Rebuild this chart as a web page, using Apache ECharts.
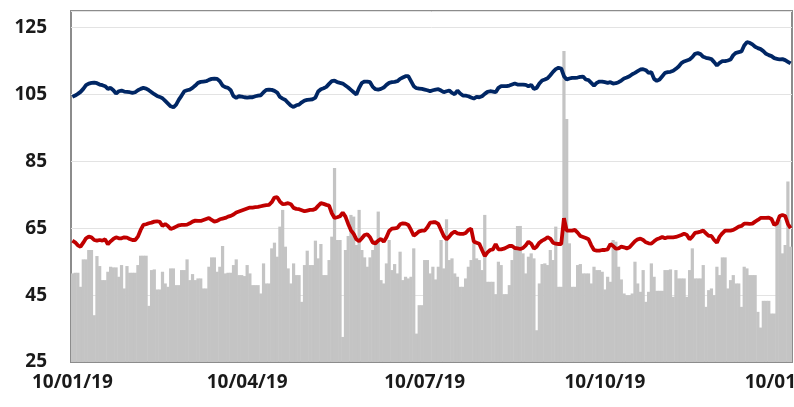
<!DOCTYPE html>
<html>
<head>
<meta charset="utf-8">
<script src="https://cdn.jsdelivr.net/npm/echarts@6/dist/echarts.min.js"></script>
<style>
  html, body { margin: 0; padding: 0; background: #fff; }
  #chart { width: 794px; height: 407px; }
</style>
</head>
<body>
<div id="chart"></div>
<script>
// --- data (one value per trading day, starting 10/01/19) -----------------
var startDate = '2019-01-10';

var greyBars = [
  51.5, 51.7, 51.7, 47.5, 55.7, 55.7, 58.5, 58.5, 39, 56.7,
  53.7, 49.5, 49.5, 52, 53.5, 53.3, 53.3, 50.5, 54, 47,
  53.7, 51.7, 51.7, 51.7, 54, 56.8, 56.8, 56.8, 41.8, 52.5,
  52.7, 46.7, 46.7, 52, 48.5, 47.5, 53, 53, 48, 48,
  52.5, 52.5, 55.7, 49.5, 51.3, 49.5, 50, 50, 47, 47,
  53.5, 56.3, 56.3, 52, 53.5, 59.7, 51.5, 51.7, 51.7, 54,
  55.7, 51, 51, 50.7, 54, 51.5,
  48, 48, 48, 45.5, 54.5, 48.5, 48.5, 59, 60.7, 56.5,
  65.5, 70.5, 59.5, 53, 48.5, 54.5, 51, 51, 43, 54,
  58.3, 54, 54, 61.3, 56, 60.3, 51, 51, 55.5, 62.5,
  83, 61.5, 61.5, 32.5, 58.5, 62.7, 69, 68.5, 60, 70.5,
  58.5, 56.3, 53.5, 56.3, 58.5, 61.5, 70, 49.5, 48.5, 54.5,
  61.5, 52.5, 54.3, 51.5, 58, 49.5, 50.5, 50, 50.5, 59,
  33.5, 42, 42, 55.5, 55.5, 51.5,
  53.5, 49.7, 53.5, 61.5, 53, 67.7, 55.5, 56, 51.5, 50.5,
  47.5, 47.5, 50, 53.5, 55.5, 60.5, 56, 55.5, 52.5, 69,
  49, 49, 49, 45.3, 55, 54, 45.3, 45.3, 48, 55.5,
  59.5, 65.7, 65.7, 57.5, 51.5, 56.5, 57.5, 56, 34.5, 48.5,
  54.3, 54.5, 54, 58.5, 55.5, 65.5, 47.5, 47.5, 118, 97.7,
  60.5, 47.5, 47.5, 54, 54.3, 51.5, 51.5, 51.5, 48.5, 53.5,
  52.5, 52.5, 52, 46.7, 50.5, 49,
  61.5, 61, 53.5, 49.7, 45.5, 45, 45, 45.5, 55, 48.5,
  46, 52.5, 43, 46, 54.5, 50.5, 46.3, 46.3, 46.3, 52.5,
  52.5, 52.7, 44.5, 52.5, 50, 50, 50, 44.5, 52.5, 59,
  50, 50, 50, 54, 41.5, 46.5, 47, 45, 53.5, 51,
  56.3, 56.3, 47, 49.5, 51, 48.5, 48.5, 41.5, 53.5, 53,
  51, 51, 51, 40, 35.3, 43.3, 43.3, 43.3, 39.5, 39.5,
  67, 67.5, 57.5, 60, 79, 59.5
];

var navyLine = [
  104.3, 104.7, 105.2, 105.8, 106.7, 107.8, 108.3, 108.5, 108.6, 108.4,
  108, 107.8, 107.5, 106.7, 107, 106.3, 105.3, 106, 106.2, 105.9,
  105.8, 105.7, 105.5, 105.7, 106.3, 106.7, 107, 106.8, 106.3, 105.7,
  105.1, 104.6, 104.3, 103.9, 103.1, 102.3, 101.5, 101.2, 102, 103.5,
  104.7, 106, 106.3, 106.5, 107, 107.7, 108.5, 108.8, 108.9, 109,
  109.4, 109.7, 109.8, 109.7, 109, 107.7, 107.2, 107, 106.3, 104.5,
  104, 104.5, 104.4, 104.2, 104.1, 104.2,
  104.2, 104.5, 104.7, 104.8, 105.7, 106.4, 106.5, 106.4, 106.1, 105.6,
  104.3, 103.8, 103.4, 102.5, 101.7, 101.3, 101.8, 102, 102.7, 103.2,
  103.4, 103.5, 103.6, 104.1, 105.9, 106.6, 106.9, 107.3, 108.2, 109,
  109.2, 108.7, 108.5, 108.3, 107.7, 107.1, 106.4, 105.7, 105, 107,
  108.5, 108.9, 108.9, 108.7, 107.3, 106.6, 106.5, 106.7, 107.1, 107.9,
  108.5, 108.7, 108.8, 109, 109.7, 110.1, 110.5, 110.5, 109, 107.5,
  106.9, 106.8, 106.7, 106.5, 106.3, 106,
  106.3, 106.5, 106.6, 106.2, 105.7, 106, 106.2, 105.5, 105.1, 106.2,
  105.3, 104.7, 104.7, 104.5, 104.1, 103.8, 104.3, 104.2, 104.5, 105.2,
  105.8, 106, 105.9, 105.7, 107, 107.5, 107.5, 107.5, 107.7, 108,
  108.3, 108, 108, 108, 107.9, 107.5, 107.9, 106.7, 107, 108.3,
  109.2, 109.5, 109.9, 110.8, 111.8, 112.6, 113, 112.8, 110.5, 109.5,
  109.8, 110, 110, 110.1, 110.3, 110.4, 109.5, 109.3, 108.5, 107.7,
  108.5, 108.9, 108.9, 108.7, 108.5, 108.7,
  108.3, 108.4, 108.7, 109.2, 109.8, 110.1, 110.5, 111.1, 111.5, 112,
  112.5, 112.6, 112.3, 111.5, 111.7, 109.7, 109.1, 109.5, 110.5, 111.5,
  111.7, 111.8, 112.1, 112.7, 113.4, 114.4, 114.9, 115.2, 115.5, 116.2,
  117.2, 117.4, 117.1, 116.3, 116, 115.8, 115.6, 114.7, 113.7, 114.5,
  115, 115, 115.2, 115.5, 116.8, 117.5, 117.7, 117.9, 119.7, 120.7,
  120.5, 120, 119.3, 118.9, 118.6, 118, 117.2, 116.8, 116.5, 115.9,
  115.7, 115.5, 115.6, 115.3, 114.8, 114.3
];

var redLine = [
  61.3, 60.8, 59.9, 59.5, 60.7, 62, 62.5, 62.3, 61.5, 61.3,
  61.5, 61.3, 61.7, 60.2, 61.1, 61.8, 62.3, 62, 62, 62.3,
  62.2, 61.8, 61.5, 61.5, 62.5, 64.5, 66, 66.2, 66.5, 66.7,
  67, 67.1, 66.9, 65.7, 66.3, 65.7, 64.8, 65.1, 65.5, 65.9,
  66, 66, 66.1, 66.5, 67, 67.3, 67.2, 67.2, 67.5, 67.8,
  68.1, 67.5, 67, 67.2, 67.7, 67.9, 68.1, 68.5, 68.7, 69.1,
  69.7, 70, 70.3, 70.6, 70.9, 71.2,
  71.2, 71.3, 71.4, 71.6, 71.8, 71.9, 72, 72.8, 74.2, 74.3,
  73, 72.2, 72.3, 72.5, 72.2, 71.1, 70.8, 70.7, 70.4, 70.1,
  70.3, 70.5, 70.5, 70.8, 71.7, 72.5, 72.3, 72, 71.8, 69.5,
  68.1, 68.3, 68.6, 69.7, 68.5, 66.3, 64.4, 63.3, 61.7, 61.1,
  62, 63, 63.2, 62.3, 60.7, 60.5, 61.3, 61.8, 61, 62.3,
  64.2, 64.9, 65, 65.1, 66.2, 66.5, 66.4, 66, 64.5, 62.8,
  63.4, 64.1, 64.3, 64.3, 65.3, 66.7,
  66.8, 66.8, 66.3, 64.5, 62.7, 61.7, 62.5, 63.5, 64, 63.5,
  63.3, 63.3, 63.6, 64.5, 64.9, 61, 60.7, 60.4, 58.5, 56.7,
  57.8, 58.5, 58.7, 60.3, 58.7, 58.7, 58.9, 59.3, 59.7, 59.7,
  59.1, 59, 58.8, 59.1, 59.9, 61, 60.4, 58.9, 59.5, 60.7,
  61.3, 61.7, 62.3, 61.9, 60.7, 60.4, 60.3, 60.3, 68, 64.3,
  64.3, 64.3, 64.5, 63.7, 62.7, 62.4, 62.1, 61.7, 59.9, 58.5,
  58.3, 58.3, 58.5, 58.5, 58.7, 60.3,
  59.7, 58.9, 59, 59.5, 59.3, 59, 59.3, 60.2, 61.1, 61.7,
  61.9, 61.5, 60.8, 60.5, 60.4, 61.1, 61.7, 62, 62.4, 62,
  62.3, 62.3, 62.3, 62.4, 62.7, 63, 63.4, 63, 61.7, 62.5,
  63.6, 63.8, 64, 64.3, 63.5, 62.7, 62.7, 61.5, 60.7, 62.5,
  63.5, 64.3, 64.3, 64.3, 64.5, 65, 65.5, 65.7, 66.4, 66.4,
  66.3, 66.4, 67, 67.5, 68.1, 68.1, 68.1, 68.2, 67.8, 66,
  66.5, 68.7, 69, 68.7, 66.3, 65
];

// x labels shown on these day/month prefixes
var labelMarks = ['10/01', '10/04', '10/07', '10/10'];

// trading-day categories (weekdays only), formatted DD/MM/YY
function pad(n) { return (n < 10 ? '0' : '') + n; }
function buildDates(start, count) {
	var out = [];
	var d = new Date(start + 'T00:00:00Z');
	while (out.length < count) {
		var wd = d.getUTCDay();
		if (wd !== 0 && wd !== 6) {
			out.push(pad(d.getUTCDate()) + '/' + pad(d.getUTCMonth() + 1) + '/' + String(d.getUTCFullYear()).slice(2));
		}
		d.setUTCDate(d.getUTCDate() + 1);
	}
	return out;
}
var dates = buildDates(startDate, greyBars.length);

// --- chart ------------------------------------------------------------------
var chart = echarts.init(document.getElementById('chart'));

var labelFont = {
	fontFamily: 'Open Sans',
	fontWeight: 'bold',
	fontSize: 19,
	color: '#1a1a1a'
};

chart.setOption({
	animation: false,
	grid: {
		left: 71,
		right: 2,
		top: 11,
		bottom: 45,
		containLabel: false,
		outerBoundsMode: 'none',
		show: true,
		borderColor: '#8c8c8c',
		borderWidth: 2
	},
	xAxis: {
		type: 'category',
		data: dates,
		boundaryGap: true,
		axisLine: { show: true, lineStyle: { color: '#8c8c8c', width: 2 } },
		axisTick: { show: false },
		splitLine: { show: false },
		axisLabel: Object.assign({
			margin: 11,
			interval: function (index, value) {
				return labelMarks.indexOf(value.slice(0, 5)) >= 0;
			}
		}, labelFont)
	},
	yAxis: {
		type: 'value',
		min: 25,
		max: 130,
		interval: 20,
		axisLine: { show: false },
		axisTick: { show: false },
		splitLine: { lineStyle: { color: '#e3e3e3', width: 1 } },
		axisLabel: Object.assign({
			margin: 24,
			showMaxLabel: false
		}, labelFont)
	},
	series: [
		{
			name: 'Bars',
			type: 'bar',
			data: greyBars,
			// slightly wider than the band so neighbouring bars overlap and leave no seams
			barWidth: '118%',
			barGap: '-100%',
			itemStyle: { color: '#c4c4c4' },
			z: 1
		},
		{
			name: 'Red',
			type: 'line',
			data: redLine,
			showSymbol: false,
			lineStyle: { color: '#c00000', width: 3.8 },
			itemStyle: { color: '#c00000' },
			z: 3
		},
		{
			name: 'Navy',
			type: 'line',
			data: navyLine,
			showSymbol: false,
			lineStyle: { color: '#002664', width: 3.8 },
			itemStyle: { color: '#002664' },
			z: 3
		}
	]
});
</script>
</body>
</html>
